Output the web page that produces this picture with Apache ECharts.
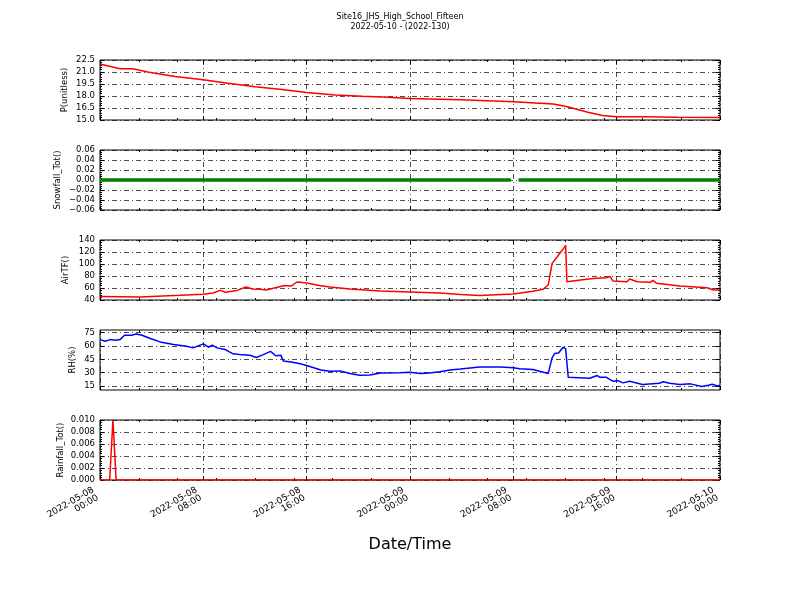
<!DOCTYPE html>
<html>
<head>
<meta charset="utf-8">
<script src="https://cdn.jsdelivr.net/npm/echarts@6/dist/echarts.min.js"></script>
<style>html,body{margin:0;padding:0;background:#fff;}#c{width:800px;height:600px;}</style>
</head>
<body>
<div id="c"></div>
<script>
// ---- Data (x in hours since 2022-05-08 00:00) ----
const xTickLabels = ['2022-05-08\n00:00','2022-05-08\n08:00','2022-05-08\n16:00','2022-05-09\n00:00','2022-05-09\n08:00','2022-05-09\n16:00','2022-05-10\n00:00'];

const pTimes  = [0,1.55,2.55,3.7,5.8,8,9.9,12,14.1,16,18.2,20.3,22.3,24,27.9,32,35.1,36.2,37.7,38.9,40,42,44.7,48];
const pValues = [22.0,21.4,21.4,21.0,20.45,20.03,19.6,19.15,18.8,18.43,18.13,17.97,17.84,17.7,17.54,17.28,17.0,16.65,16.0,15.56,15.4,15.4,15.35,15.3];

const snowTimes  = [0,4,8,12,16,20,24,28,31.8,31.9,32.4,36,40,44,48];
const snowValues = [0,0,0,0,0,0,0,0,0,null,0,0,0,0,0];

const airTimes  = [0,3.1,6.2,8,8.75,9.3,9.7,10.6,11.3,11.8,12.4,12.85,13.5,14.3,14.8,15.25,16,17,17.8,19.35,21.7,24,26.3,27.9,29.4,32,33.5,34.3,34.7,35,35.4,35.6,35.9,36.05,36.15,37.2,38.2,39.2,39.5,39.7,40.8,41,41.6,42.6,42.8,43.1,44.9,47,47.5,48];
const airValues = [46,45,47.8,49.5,51.7,56,53,56,61.7,58.3,58,56.7,60,64,63.3,70,68.3,64,61.7,58.3,55,53.3,51.7,49.2,47.5,50,54.5,57.8,65,101,112,118,126,131,70.5,73.3,76,77.2,79,71.7,70.5,75,70.5,69.4,72.8,67.8,63.3,60.5,56.7,56.7];

const rhTimes  = [0,0.4,0.8,1.2,1.55,1.9,2.45,2.8,3.25,3.9,4.65,5.7,6.7,7.2,8,8.4,8.7,9.05,9.7,10.3,10.8,11.6,12.1,12.6,13.2,13.6,14,14.2,14.8,15.5,16,17.1,17.8,18.6,19.35,20.1,20.9,21.7,23.2,24,24.8,25.5,26.3,27.1,27.9,29.4,31,32,32.5,33.5,34.7,35,35.2,35.5,35.85,36.05,36.25,37.9,38.5,38.7,39.2,39.7,40.1,40.5,41,42,43.3,43.6,44.1,44.9,45.7,46.6,47.1,47.4,47.8,48];
const rhValues = [67.2,65.3,67.2,66.5,67.2,72.1,72,73.6,72.1,68.4,64.6,61.6,59.7,57.9,62.4,58.6,61,57.9,56,51.2,50.4,49.5,47,50,54,49,49.5,43,42,40,38,33,31.5,32,29,27,27.5,29.5,30,30.5,29,29.5,31,33,34,36.5,36.5,35.4,34.5,33.5,29,46.7,51.5,52.2,58.6,57.1,24.8,23.7,26.8,24.8,24.8,20.4,21,18.5,20.4,16.6,18.1,19.7,18.1,16.6,17.4,14.4,15.9,17,15.1,15.9];

const rainTimes  = [0,0.75,1,1.25,48];
const rainValues = [0,0,0.01,0,0];

const zip = (t, v) => t.map((x, i) => [x, v[i]]);

// ---- Layout ----
const tops = [60,150,240,330,420];
const nameGaps = [31,38,30,23,35];
const FONT = 'DejaVu Sans';
const gridLine = {show:true, lineStyle:{color:'#000', width:0.7, type:[5,3,1,3]}};

const panels = [
  {name:'P(unitless)', min:15, max:22.5, interval:1.5, fmt:v=>v.toFixed(1), data:zip(pTimes,pValues), color:'#ff0000', width:1.5},
  {name:'Snowfall_Tot()', min:-0.06, max:0.06, interval:0.02, fmt:v=>(v<-1e-9?'\u2212':'')+Math.abs(v).toFixed(2), data:zip(snowTimes,snowValues), color:'#008000', width:3.5},
  {name:'AirTF()', min:40, max:140, interval:20, fmt:v=>v.toFixed(0), data:zip(airTimes,airValues), color:'#ff0000', width:1.5},
  {name:'RH(%)', min:10.5, max:78, custom:[15,30,45,60,75], fmt:v=>v.toFixed(0), data:zip(rhTimes,rhValues), color:'#0000ff', width:1.5},
  {name:'Rainfall_Tot()', min:0, max:0.01, interval:0.002, fmt:v=>v.toFixed(3), data:zip(rainTimes,rainValues), color:'#ff0000', width:1.5}
];

const grid = [], xAxis = [], yAxis = [], series = [];
panels.forEach((p, i) => {
  grid.push({left:100, width:620, top:tops[i], height:60, show:true, borderColor:'#000', borderWidth:1, backgroundColor:'#fff'});
  const last = i === panels.length - 1;
  const mainX = xAxis.length;
  xAxis.push({
    type:'value', gridIndex:i, min:0, max:48, interval:8, position:'bottom',
    axisLine:{show:false, onZero:false},
    axisTick:{show:true, inside:true, length:4, lineStyle:{color:'#000'}},
    splitLine:gridLine,
    axisLabel: last ? {show:true, rotate:30, fontSize:9, fontFamily:FONT, color:'#000', margin:21, align:'right', verticalAlign:'bottom',
      formatter:v=>xTickLabels[Math.round(v/8)]} : {show:false},
    name: last ? 'Date/Time' : '', nameLocation:'middle', nameGap:57, nameMoveOverlap:false,
    nameTextStyle:{fontSize:16, fontFamily:FONT, color:'#000'}
  });
  xAxis.push({type:'value', gridIndex:i, min:0, max:48, interval:8, position:'top',
    axisLine:{show:false, onZero:false}, axisTick:{show:true, inside:true, length:4, lineStyle:{color:'#000'}},
    splitLine:{show:false}, axisLabel:{show:false}});
  ['bottom','top'].forEach(pos => xAxis.push({type:'value', gridIndex:i, min:0, max:48, interval:3, position:pos,
    axisLine:{show:false, onZero:false}, axisTick:{show:true, inside:true, length:2, lineStyle:{color:'#000'}},
    splitLine:{show:false}, axisLabel:{show:false}}));

  const mainY = yAxis.length;
  const yBase = {type:'value', gridIndex:i, min:p.min, max:p.max};
  if (!p.custom) yBase.interval = p.interval;
  const tickCfg = {show:true, inside:true, length:4, lineStyle:{color:'#000'}};
  const minor = {show:!p.custom, length:2, splitNumber:5, lineStyle:{color:'#000'}};
  const left = Object.assign({}, yBase, {
    position:'left',
    axisLine:{show:false, onZero:false},
    axisTick:Object.assign({}, tickCfg, p.custom ? {customValues:p.custom} : {}),
    minorTick:minor,
    splitLine:gridLine,
    axisLabel:Object.assign({show:true, fontSize:8.5, fontFamily:FONT, color:'#000', margin:5, formatter:p.fmt}, p.custom ? {customValues:p.custom} : {}),
    name:p.name, nameLocation:'middle', nameGap:nameGaps[i], nameRotate:90, nameMoveOverlap:false,
    nameTextStyle:{fontSize:8.5, fontFamily:FONT, color:'#000'}
  });
  const right = Object.assign({}, yBase, {
    position:'right',
    axisLine:{show:false, onZero:false},
    axisTick:Object.assign({}, tickCfg, p.custom ? {customValues:p.custom} : {}),
    minorTick:minor,
    splitLine:{show:false}, axisLabel:{show:false}
  });
  yAxis.push(left, right);

  series.push({
    type:'line', xAxisIndex:mainX, yAxisIndex:mainY, data:p.data,
    showSymbol:false, symbol:'none', connectNulls:false, clip:true,
    lineStyle:{color:p.color, width:p.width}, itemStyle:{color:p.color},
    animation:false, z:3
  });
});

const chart = echarts.init(document.getElementById('c'), null, {renderer:'canvas'});
chart.setOption({
  animation:false,
  backgroundColor:'#fff',
  title:{text:'Site16_JHS_High_School_Fifteen\n2022-05-10 - (2022-130)', left:'center', top:7,
    textStyle:{fontSize:8, fontWeight:'normal', fontFamily:FONT, color:'#000', lineHeight:10}},
  grid, xAxis, yAxis, series
});
</script>
</body>
</html>
